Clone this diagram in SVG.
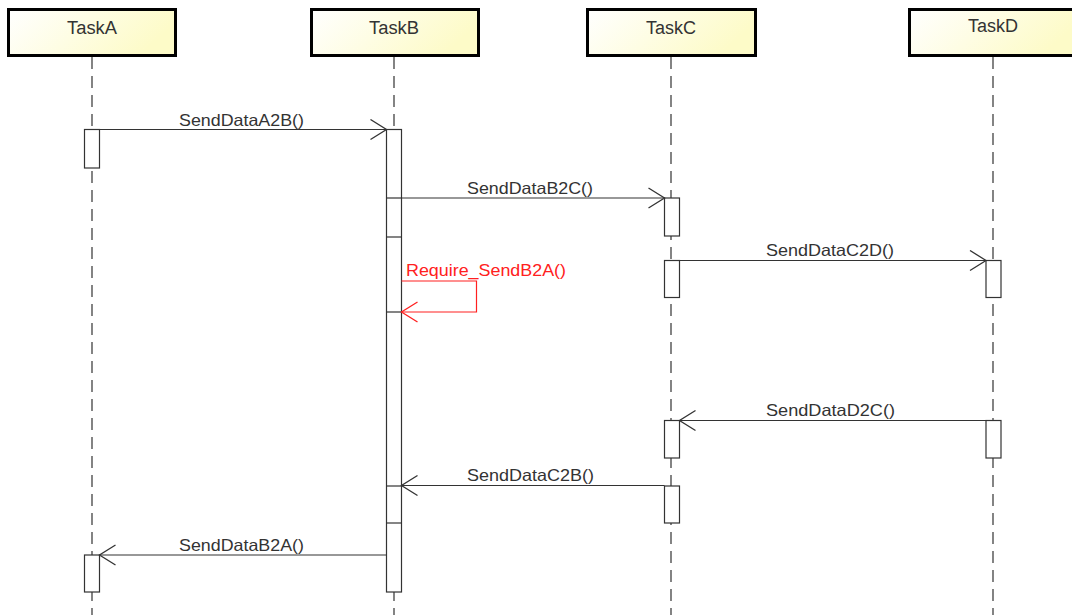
<svg xmlns="http://www.w3.org/2000/svg" width="1072" height="615" viewBox="0 0 1072 615">
<defs>
<linearGradient id="hdr" x1="0" y1="0" x2="1" y2="0.3">
<stop offset="0" stop-color="#ffffff"/>
<stop offset="1" stop-color="#fdfbc8"/>
</linearGradient>
<marker id="open" markerWidth="20" markerHeight="24" refX="17" refY="11" orient="auto" markerUnits="userSpaceOnUse">
<path d="M1,1 L17,11 L1,21" fill="none" stroke="#333" stroke-width="1.3"/>
</marker>
<marker id="openRed" markerWidth="20" markerHeight="24" refX="17" refY="11" orient="auto" markerUnits="userSpaceOnUse">
<path d="M1,1 L17,11 L1,21" fill="none" stroke="#ff2020" stroke-width="1.3"/>
</marker>
</defs>
<style>
.head{fill:url(#hdr);stroke:#000;stroke-width:3}
.htxt{font-family:"Liberation Sans",Arial,sans-serif;font-size:18px;fill:#333;text-anchor:middle}
.life{stroke:#333;stroke-width:1.2;stroke-dasharray:12,7;fill:none}
.act{fill:#fff;stroke:#333;stroke-width:1.2}
.msg{stroke:#333;stroke-width:1.2;fill:none;marker-end:url(#open)}
.self{stroke:#ff2020;stroke-width:1.2;fill:none;marker-end:url(#openRed)}
.lbl{font-family:"Liberation Sans",Arial,sans-serif;font-size:16.5px;fill:#333}
.lblr{font-family:"Liberation Sans",Arial,sans-serif;font-size:16.5px;fill:#ff2020}
</style>
<rect width="1072" height="615" fill="#fff"/>

<g id="TaskA">
<rect class="head" x="8.5" y="9.5" width="167" height="46"/>
<text class="htxt" x="92" y="34" textLength="50" lengthAdjust="spacingAndGlyphs">TaskA</text>
<line class="life" x1="92" y1="57" x2="92" y2="615"/>
<rect class="act" x="84.5" y="129.5" width="15" height="38.5"/>
<rect class="act" x="84.5" y="555" width="15" height="37"/>
</g>

<g id="TaskB">
<rect class="head" x="311.5" y="9.5" width="167" height="46"/>
<text class="htxt" x="394" y="34" textLength="50" lengthAdjust="spacingAndGlyphs">TaskB</text>
<line class="life" x1="394" y1="57" x2="394" y2="615"/>
<rect class="act" x="386.5" y="129.5" width="15" height="462.5"/>
<line x1="386.5" y1="198" x2="401.5" y2="198" stroke="#333" stroke-width="1.2"/>
<line x1="386.5" y1="237" x2="401.5" y2="237" stroke="#333" stroke-width="1.2"/>
<line x1="386.5" y1="312" x2="401.5" y2="312" stroke="#333" stroke-width="1.2"/>
<line x1="386.5" y1="486" x2="401.5" y2="486" stroke="#333" stroke-width="1.2"/>
<line x1="386.5" y1="523" x2="401.5" y2="523" stroke="#333" stroke-width="1.2"/>
</g>

<g id="TaskC">
<rect class="head" x="587.5" y="9.5" width="168" height="46"/>
<text class="htxt" x="671" y="34" textLength="50" lengthAdjust="spacingAndGlyphs">TaskC</text>
<line class="life" x1="671" y1="57" x2="671" y2="615"/>
<rect class="act" x="664.5" y="198" width="15" height="38"/>
<rect class="act" x="664.5" y="260.5" width="15" height="37"/>
<rect class="act" x="664.5" y="420.5" width="15" height="37.5"/>
<rect class="act" x="664.5" y="486" width="15" height="37"/>
</g>

<g id="TaskD">
<rect class="head" x="909.5" y="9.5" width="168" height="46"/>
<text class="htxt" x="993" y="32" textLength="50" lengthAdjust="spacingAndGlyphs">TaskD</text>
<line class="life" x1="993" y1="57" x2="993" y2="615"/>
<rect class="act" x="986" y="260.5" width="15" height="37"/>
<rect class="act" x="986" y="420.5" width="15" height="37.5"/>
</g>

<g id="connectors">
<line class="msg" x1="99.5" y1="129.5" x2="386.5" y2="129.5"/>
<text class="lbl" x="179" y="125.5" textLength="125" lengthAdjust="spacingAndGlyphs">SendDataA2B()</text>

<line class="msg" x1="401.5" y1="198" x2="664.5" y2="198"/>
<text class="lbl" x="467" y="193.5" textLength="126" lengthAdjust="spacingAndGlyphs">SendDataB2C()</text>

<line class="msg" x1="679.5" y1="260.5" x2="986" y2="260.5"/>
<text class="lbl" x="766" y="255.5" textLength="128" lengthAdjust="spacingAndGlyphs">SendDataC2D()</text>

<polyline class="self" points="401.5,281 476.5,281 476.5,312 401.5,312"/>
<text class="lblr" x="406" y="275.5" textLength="160" lengthAdjust="spacingAndGlyphs">Require_SendB2A()</text>

<line class="msg" x1="986" y1="420.5" x2="679.5" y2="420.5"/>
<text class="lbl" x="766" y="415.5" textLength="129" lengthAdjust="spacingAndGlyphs">SendDataD2C()</text>

<line class="msg" x1="664.5" y1="485.5" x2="401.5" y2="485.5"/>
<text class="lbl" x="467" y="480.5" textLength="127" lengthAdjust="spacingAndGlyphs">SendDataC2B()</text>

<line class="msg" x1="386.5" y1="555" x2="99.5" y2="555"/>
<text class="lbl" x="179" y="550.5" textLength="125" lengthAdjust="spacingAndGlyphs">SendDataB2A()</text>
</g>
</svg>
